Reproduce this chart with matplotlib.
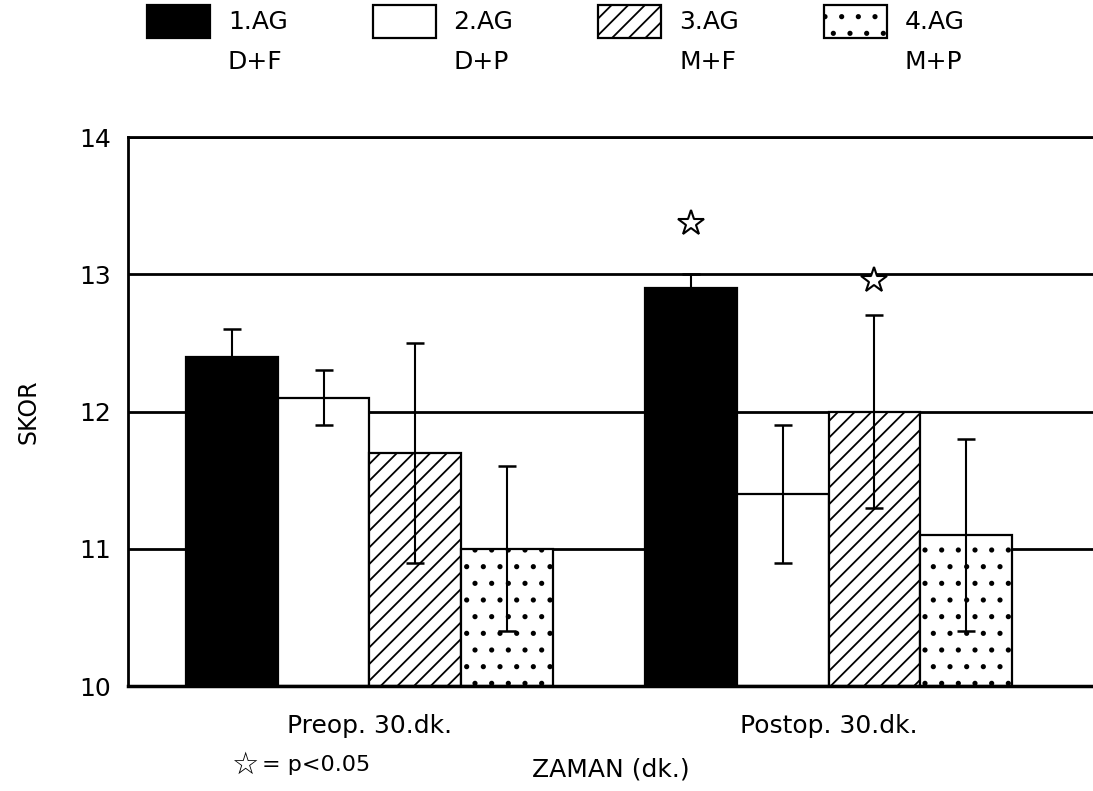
import matplotlib
matplotlib.use('Agg')
import matplotlib.pyplot as plt
from matplotlib.patches import Rectangle
import numpy as np

plt.rcParams['font.family'] = ['DejaVu Sans']
plt.rcParams['hatch.linewidth'] = 1.3
plt.rcParams['hatch.color'] = 'black'

# ---- data ----
groups = ['Preop. 30.dk.', 'Postop. 30.dk.']
series_names = ['1.AG', '2.AG', '3.AG', '4.AG']
series_sub = ['D+F', 'D+P', 'M+F', 'M+P']
ag1_mean = [12.4, 12.9]
ag2_mean = [12.1, 11.4]
ag3_mean = [11.7, 12.0]
ag4_mean = [11.0, 11.1]
ag1_err = [0.2, 0.1]
ag2_err = [0.2, 0.5]
ag3_err = [0.8, 0.7]
ag4_err = [0.6, 0.7]
star_group = [1, 1]
star_series = [0, 2]
star_y = [13.37, 12.96]
yticks = [10, 11, 12, 13, 14]

means = [ag1_mean, ag2_mean, ag3_mean, ag4_mean]
errs = [ag1_err, ag2_err, ag3_err, ag4_err]
faces = ['black', 'white', 'white', 'white']
hatches = [None, None, '//', '.']

fig = plt.figure(figsize=(10.93, 7.91), dpi=100)
ax = fig.add_axes([0.1171, 0.1327, 0.8829, 0.6941])

width = 0.2
xg = np.arange(len(groups))
for i in range(4):
    xs = xg + (i - 1.5) * width
    ax.bar(xs, np.array(means[i]) - 10, bottom=10, width=width, color=faces[i],
           edgecolor='black', linewidth=1.6, hatch=hatches[i], zorder=2)
    ax.errorbar(xs, means[i], yerr=errs[i], fmt='none', ecolor='black',
                elinewidth=1.5, capsize=6.5, capthick=1.8, zorder=3)

for g, s, y in zip(star_group, star_series, star_y):
    ax.plot(xg[g] + (s - 1.5) * width, y, marker='*', markersize=19,
            mfc='white', mec='black', mew=1.5, zorder=4, clip_on=False)

ax.set_xlim(-0.526, 1.576)
ax.set_ylim(10, 14)
ax.set_yticks(yticks)
ax.set_xticks(xg)
ax.set_xticklabels(groups)
ax.tick_params(axis='both', length=0, labelsize=18)
ax.tick_params(axis='y', pad=12)
ax.tick_params(axis='x', pad=20)
ax.yaxis.grid(True, color='black', linewidth=2)
ax.set_axisbelow(True)
ax.spines['right'].set_visible(False)
ax.spines['left'].set_linewidth(2)
ax.spines['bottom'].set_linewidth(2.5)
ax.spines['top'].set_linewidth(2)

ax.set_ylabel('SKOR', fontsize=17, labelpad=28)
fig.text(0.559, 0.027, 'ZAMAN (dk.)', fontsize=18, ha='center', va='center')
fig.text(0.211, 0.033, '☆', fontsize=22, ha='left', va='center')
fig.text(0.240, 0.033, '= p<0.05', fontsize=16, ha='left', va='center')

# legend
for i in range(4):
    x0 = (147 + 225.5 * i) / 1093
    fig.add_artist(Rectangle((x0, 1 - 38 / 791), 63 / 1093, 33 / 791,
                             transform=fig.transFigure, facecolor=faces[i],
                             edgecolor='black', linewidth=1.6, hatch=hatches[i]))
    fig.text(x0 + 81 / 1093, 1 - 22 / 791, series_names[i], fontsize=18,
             ha='left', va='center')
    fig.text(x0 + 81 / 1093, 1 - 62 / 791, series_sub[i], fontsize=18,
             ha='left', va='center')

fig.savefig('out.png', dpi=100)
